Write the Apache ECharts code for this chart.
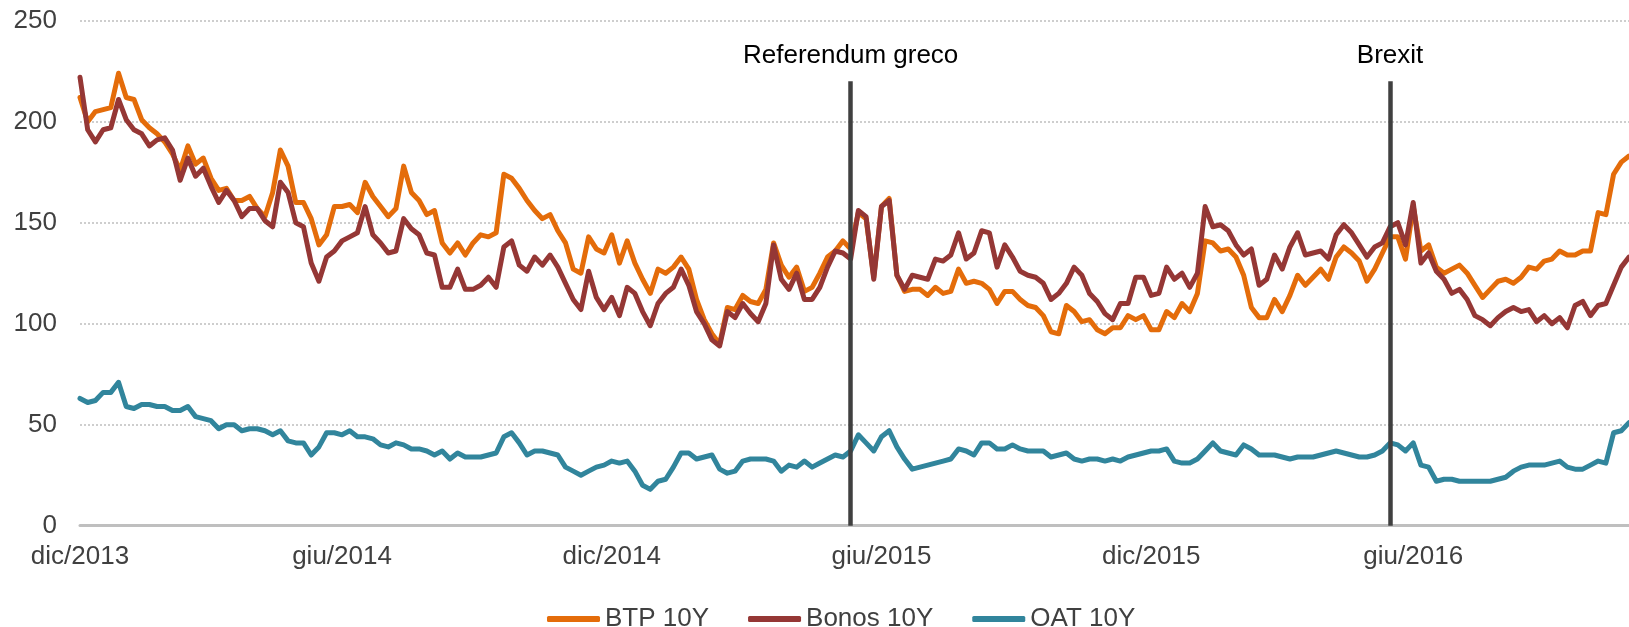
<!DOCTYPE html>
<html>
<head>
<meta charset="utf-8">
<script src="https://cdn.jsdelivr.net/npm/echarts@6/dist/echarts.min.js"></script>
<style>
  html, body { margin: 0; padding: 0; background: #ffffff; }
  #chart { width: 1629px; height: 627px; }
</style>
</head>
<body>
<div id="chart"></div>
<script>
// Axis labels: which sample carries each month label
const tickIndex = [0, 34, 69, 104, 139, 173];
const tickLabels = ['dic/2013', 'giu/2014', 'dic/2014', 'giu/2015', 'dic/2015', 'giu/2016'];

// Event markers
const eventIndex = [100, 170];
const eventLabels = ['Referendum greco', 'Brexit'];

const seriesNames = ['BTP 10Y', 'Bonos 10Y', 'OAT 10Y'];

// Spread vs Bund, basis points (weekly samples)
const btp = [
  212, 200, 205, 206, 207, 224, 212, 211, 201, 197,
  194, 190, 184, 176, 188, 179, 182, 172, 166, 167,
  161, 161, 163, 157, 153, 165, 186, 178, 160, 160,
  152, 139, 144, 158, 158, 159, 155, 170, 163, 158,
  153, 157, 178, 165, 161, 154, 156, 140, 135, 140,
  134, 140, 144, 143, 145, 174, 172, 167, 161, 156,
  152, 154, 146, 140, 127, 125, 143, 137, 135, 144,
  130, 141, 130, 122, 115, 127, 125, 128, 133, 127,
  112, 102, 95, 90, 108, 107, 114, 111, 110, 117,
  140, 129, 123, 128, 116, 118, 125, 133, 136, 141,
  137, 155, 152, 123, 158, 162, 124, 116, 117, 117,
  114, 118, 115, 116, 127, 120, 121, 120, 117, 110,
  116, 116, 112, 109, 108, 104, 96, 95, 109, 106,
  101, 102, 97, 95, 98, 98, 104, 102, 104, 97,
  97, 106, 103, 110, 106, 115, 141, 140, 136, 137,
  133, 124, 108, 103, 103, 112, 106, 114, 124, 119,
  123, 127, 122, 133, 138, 135, 131, 121, 127, 135,
  143, 143, 132, 158, 136, 139, 128, 125, 127, 129,
  125, 119, 113, 117, 121, 122, 120, 123, 128, 127,
  131, 132, 136, 134, 134, 136, 136, 155, 154, 174,
  180, 183
];

const bonos = [
  222, 196, 190, 196, 197, 211, 201, 196, 194, 188,
  191, 192, 186, 171, 182, 173, 177, 168, 160, 166,
  161, 153, 157, 157, 151, 148, 170, 165, 150, 148,
  130, 121, 133, 136, 141, 143, 145, 158, 144, 140,
  135, 136, 152, 147, 144, 135, 134, 118, 118, 127,
  117, 117, 119, 123, 118, 138, 141, 129, 126, 133,
  129, 134, 128, 120, 112, 107, 126, 113, 107, 113,
  104, 118, 115, 106, 99, 110, 115, 118, 127, 119,
  106, 100, 92, 89, 106, 103, 110, 105, 101, 110,
  139, 122, 117, 125, 112, 112, 118, 128, 136, 135,
  132, 156, 153, 122, 158, 161, 124, 117, 124, 123,
  122, 132, 131, 134, 145, 132, 135, 146, 145, 128,
  139, 133, 126, 124, 123, 120, 112, 115, 120, 128,
  124, 115, 111, 105, 102, 110, 110, 123, 123, 114,
  115, 128, 122, 125, 118, 125, 158, 148, 149, 146,
  139, 134, 137, 119, 122, 134, 127, 138, 145, 134,
  135, 136, 132, 144, 149, 145, 139, 133, 138, 140,
  148, 150, 139, 160, 130, 135, 126, 122, 115, 117,
  112, 104, 102, 99, 103, 106, 108, 106, 107, 101,
  104, 100, 103, 98, 109, 111, 104, 109, 110, 119,
  128, 133
];

const oat = [
  63, 61, 62, 66, 66, 71, 59, 58, 60, 60,
  59, 59, 57, 57, 59, 54, 53, 52, 48, 50,
  50, 47, 48, 48, 47, 45, 47, 42, 41, 41,
  35, 39, 46, 46, 45, 47, 44, 44, 43, 40,
  39, 41, 40, 38, 38, 37, 35, 37, 33, 36,
  34, 34, 34, 35, 36, 44, 46, 41, 35, 37,
  37, 36, 35, 29, 27, 25, 27, 29, 30, 32,
  31, 32, 27, 20, 18, 22, 23, 29, 36, 36,
  33, 34, 35, 28, 26, 27, 32, 33, 33, 33,
  32, 27, 30, 29, 32, 29, 31, 33, 35, 34,
  37, 45, 41, 37, 44, 47, 39, 33, 28, 29,
  30, 31, 32, 33, 38, 37, 35, 41, 41, 38,
  38, 40, 38, 37, 37, 37, 34, 35, 36, 33,
  32, 33, 33, 32, 33, 32, 34, 35, 36, 37,
  37, 38, 32, 31, 31, 33, 37, 41, 37, 36,
  35, 40, 38, 35, 35, 35, 34, 33, 34, 34,
  34, 35, 36, 37, 36, 35, 34, 34, 35, 37,
  41, 40, 37, 41, 30, 29, 22, 23, 23, 22,
  22, 22, 22, 22, 23, 24, 27, 29, 30, 30,
  30, 31, 32, 29, 28, 28, 30, 32, 31, 46,
  47, 51
];

const colors = ['#E46C0A', '#953735', '#31859C'];
const font = '"Liberation Sans", Arial, sans-serif';
const categories = btp.map((_, i) => String(i));

const chart = echarts.init(document.getElementById('chart'), null, { renderer: 'canvas' });

function lineSeries(name, data, color, extra) {
  return Object.assign({
    name: name,
    type: 'line',
    data: data,
    symbol: 'none',
    smooth: false,
    animation: false,
    color: color,
    lineStyle: { color: color, width: 5, join: 'round', cap: 'round' }
  }, extra || {});
}

chart.setOption({
  backgroundColor: '#ffffff',
  animation: false,
  textStyle: { fontFamily: font },
  grid: { left: 80, right: 0, top: 20.7, bottom: 101.3, containLabel: false },
  legend: {
    left: 547,
    top: 606,
    padding: 0,
    icon: 'roundRect',
    itemWidth: 53,
    itemHeight: 6,
    itemGap: 39,
    data: seriesNames,
    textStyle: { color: '#404040', fontSize: 26, fontFamily: font }
  },
  xAxis: {
    type: 'category',
    data: categories,
    boundaryGap: false,
    axisLine: { lineStyle: { color: '#BFBFBF', width: 3 } },
    axisTick: { show: false },
    axisLabel: {
      interval: (idx) => tickIndex.indexOf(idx) >= 0,
      formatter: (val, idx) => tickLabels[tickIndex.indexOf(Number(val))] || '',
      color: '#404040',
      fontSize: 26,
      fontFamily: font,
      margin: 18,
      hideOverlap: false
    },
    splitLine: { show: false }
  },
  yAxis: {
    type: 'value',
    min: 0,
    max: 250,
    interval: 50,
    axisLine: { show: false },
    axisTick: { show: false },
    axisLabel: { color: '#404040', fontSize: 26, fontFamily: font, margin: 23 },
    splitLine: { lineStyle: { color: '#BFBFBF', width: 1.5, type: [2, 2] } }
  },
  series: [
    lineSeries(seriesNames[0], btp, colors[0], {
      markLine: {
        silent: true,
        animation: false,
        symbol: ['none', 'none'],
        lineStyle: { color: '#404040', width: 4.5, type: 'solid' },
        label: {
          show: true,
          position: 'end',
          distance: 12,
          color: '#000000',
          fontSize: 26,
          fontFamily: font,
          formatter: (p) => p.name
        },
        emphasis: { disabled: true },
        data: eventIndex.map((x, k) => [
          { coord: [x, 0], name: eventLabels[k] },
          { coord: [x, 220] }
        ])
      }
    }),
    lineSeries(seriesNames[1], bonos, colors[1]),
    lineSeries(seriesNames[2], oat, colors[2])
  ]
});
</script>
</body>
</html>
